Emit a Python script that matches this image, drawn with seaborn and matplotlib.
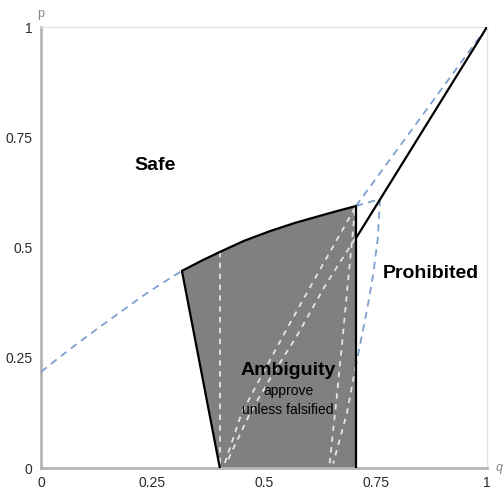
import matplotlib
matplotlib.use("Agg")
import matplotlib.pyplot as plt
import seaborn as sns
import numpy as np

# boundary curves (q on x, p on y)
safe_curve_q = [0.0, 0.04, 0.085, 0.132, 0.18, 0.225, 0.27, 0.316]
safe_curve_p = [0.218, 0.25, 0.285, 0.32, 0.355, 0.388, 0.418, 0.447]

top_curve_q = [0.316, 0.36, 0.401, 0.455, 0.513, 0.57, 0.626, 0.665, 0.706]
top_curve_p = [0.447, 0.470, 0.490, 0.515, 0.537, 0.556, 0.572, 0.583, 0.594]

corner_ext_q = [0.706, 0.760]
corner_ext_p = [0.594, 0.610]

diag_blue_q = [0.706, 1.0]
diag_blue_p = [0.594, 1.0]

diag_black_q = [0.708, 1.0]
diag_black_p = [0.524, 1.0]

right_blue_q = [0.760, 0.755, 0.745, 0.733, 0.722, 0.706]
right_blue_p = [0.610, 0.520, 0.440, 0.370, 0.313, 0.232]

# white guides inside the ambiguity region
guide_vert_q = [0.401, 0.401]
guide_vert_p = [0.490, 0.0]
guide_a_q = [0.704, 0.620, 0.552, 0.495, 0.450, 0.410]
guide_a_p = [0.590, 0.440, 0.317, 0.210, 0.125, 0.005]
guide_b_q = [0.704, 0.635, 0.574, 0.515, 0.469, 0.420]
guide_b_p = [0.520, 0.410, 0.300, 0.205, 0.125, 0.020]
guide_c_q = [0.704, 0.690, 0.677, 0.662, 0.646]
guide_c_p = [0.585, 0.440, 0.302, 0.150, 0.0]
guide_d_q = [0.706, 0.686, 0.655]
guide_d_p = [0.232, 0.125, 0.010]

ambig_left_q = [0.401, 0.316]
ambig_left_p = [0.0, 0.447]
ambig_right_q = [0.706, 0.706]
ambig_right_p = [0.594, 0.0]

ticks = [0, 0.25, 0.5, 0.75, 1]
tick_labels = ["0", "0.25", "0.5", "0.75", "1"]

sns.set_style("white")
plt.rcParams["font.family"] = ["Liberation Sans", "DejaVu Sans"]

fig = plt.figure(figsize=(5.03, 4.93), dpi=100)
ax = fig.add_axes([0.0815, 0.0507, 0.8867, 0.8945])

blue = "#7f9fd0"
guide = "#e6e6e6"
blue_ls = (0, (4, 3))
white_ls = (0, (3, 3))

# shaded ambiguity polygon
poly_q = ambig_left_q + top_curve_q[1:] + ambig_right_q[1:]
poly_p = ambig_left_p + top_curve_p[1:] + ambig_right_p[1:]
ax.fill(poly_q, poly_p, color="#808080", lw=0, zorder=1)

def line(q, p, color, ls, lw, z):
    sns.lineplot(x=q, y=p, sort=False, estimator=None, color=color,
                 linestyle=ls, linewidth=lw, ax=ax, zorder=z)

for gq, gp in [(guide_vert_q, guide_vert_p), (guide_a_q, guide_a_p),
               (guide_b_q, guide_b_p), (guide_c_q, guide_c_p),
               (guide_d_q, guide_d_p)]:
    line(gq, gp, guide, white_ls, 1.3, 2)

line(safe_curve_q, safe_curve_p, blue, blue_ls, 1.3, 3)
line(corner_ext_q, corner_ext_p, blue, blue_ls, 1.3, 3)
line(diag_blue_q, diag_blue_p, blue, blue_ls, 1.3, 3)
line(right_blue_q, right_blue_p, blue, blue_ls, 1.3, 3)

line(diag_black_q, diag_black_p, "black", "-", 1.6, 4)
line(ambig_left_q, ambig_left_p, "black", "-", 1.6, 4)
line(top_curve_q, top_curve_p, "black", "-", 1.6, 4)
line(ambig_right_q, ambig_right_p, "black", "-", 1.6, 4)

ax.set_xlim(0, 1)
ax.set_ylim(0, 1)
ax.set_xticks(ticks)
ax.set_yticks(ticks)
ax.set_xticklabels(tick_labels)
ax.set_yticklabels(tick_labels)
ax.tick_params(direction="in", length=4, width=1, color="#999999",
               labelsize=10, labelcolor="#2a2a2a", pad=6)
ax.set_xlabel("")
ax.set_ylabel("")

for side in ["left", "bottom"]:
    ax.spines[side].set_color("#b5b5b5")
    ax.spines[side].set_linewidth(2)
for side in ["top", "right"]:
    ax.spines[side].set_color("#e2e2e2")
    ax.spines[side].set_linewidth(1)

# region labels
ax.text(0.256, 0.687, "Safe", ha="center", va="center", fontsize=14,
        fontweight="bold", color="black")
ax.text(0.874, 0.442, "Prohibited", ha="center", va="center", fontsize=14,
        fontweight="bold", color="black")
ax.text(0.554, 0.222, "Ambiguity", ha="center", va="center", fontsize=14,
        fontweight="bold", color="black", zorder=5)
ax.text(0.554, 0.175, "approve", ha="center", va="center", fontsize=10,
        color="black", zorder=5)
ax.text(0.554, 0.132, "unless falsified", ha="center", va="center", fontsize=10,
        color="black", zorder=5)

# axis names
ax.annotate("p", xy=(0, 1), xycoords="axes fraction", xytext=(0, 5),
            textcoords="offset points", ha="center", va="bottom",
            fontsize=9, color="#888888")
ax.annotate("q", xy=(1, 0), xycoords="axes fraction", xytext=(6, 0),
            textcoords="offset points", ha="left", va="center",
            fontsize=9, color="#888888", style="italic")

fig.savefig("out.png", dpi=100)
